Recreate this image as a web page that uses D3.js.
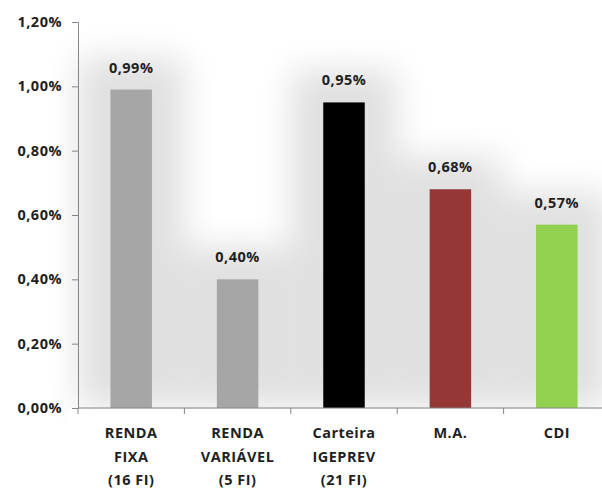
<!DOCTYPE html>
<html>
<head>
<meta charset="utf-8">
<script src="https://cdn.jsdelivr.net/npm/d3@7"></script>
<style>
  body { margin: 0; background: #fff; }
  text { font-family: "Open Sans", Lato, sans-serif; font-weight: bold; fill: #1f1f1f; letter-spacing: 0.5px; }
</style>
</head>
<body>
<div id="chart"></div>
<script>
// categories (each label split in lines)
var categories = [
    ["RENDA", "FIXA", "(16 FI)"],
    ["RENDA", "VARIÁVEL", "(5 FI)"],
    ["Carteira", "IGEPREV", "(21 FI)"],
    ["M.A."],
    ["CDI"]
];
var values = [0.99, 0.40, 0.95, 0.68, 0.57];
var barColors = ["#a6a6a6", "#a6a6a6", "#000000", "#953735", "#92d050"];
var yTicks = [0, 0.2, 0.4, 0.6, 0.8, 1.0, 1.2];

var W = 602, H = 488;
var margin = {top: 22, right: -8, bottom: 80, left: 78};
var width = W - margin.left - margin.right,
    height = H - margin.top - margin.bottom;

var fmt = function(v) { return v.toFixed(2).replace(".", ",") + "%"; };

var svg = d3.select("#chart").append("svg")
    .attr("width", W).attr("height", H)
    .append("g")
    .attr("transform", "translate(" + margin.left + "," + margin.top + ")");

// soft halo behind the bars
var defs = svg.append("defs");
defs.append("filter").attr("id", "glow")
    .attr("x", "-200%").attr("y", "-50%").attr("width", "500%").attr("height", "200%")
    .append("feGaussianBlur").attr("stdDeviation", 17);

var x = d3.scaleBand()
    .domain(d3.range(categories.length))
    .range([0, width])
    .paddingInner(0.61).paddingOuter(0.305);

var y = d3.scaleLinear().domain([0, 1.2]).range([height, 0]);

var idx = d3.range(values.length);

svg.append("g").selectAll("rect.halo")
    .data(idx).enter().append("rect")
    .attr("class", "halo")
    .attr("x", function(i) { return x(i) - 32; })
    .attr("y", function(i) { return y(values[i]) - 32; })
    .attr("width", x.bandwidth() + 64)
    .attr("height", function(i) { return height - y(values[i]) + 32; })
    .attr("fill", "#000")
    .attr("opacity", 0.12)
    .attr("filter", "url(#glow)");

// white out below the axis
svg.append("rect")
    .attr("x", -10).attr("y", height + 1)
    .attr("width", width + 20).attr("height", 100)
    .attr("fill", "#fff");

svg.selectAll("rect.bar")
    .data(idx).enter().append("rect")
    .attr("class", "bar")
    .attr("x", function(i) { return x(i); })
    .attr("y", function(i) { return y(values[i]); })
    .attr("width", x.bandwidth())
    .attr("height", function(i) { return height - y(values[i]); })
    .attr("fill", function(i) { return barColors[i]; });

svg.selectAll("text.val")
    .data(idx).enter().append("text")
    .attr("class", "val")
    .attr("x", function(i) { return x(i) + x.bandwidth() / 2; })
    .attr("y", function(i) { return y(values[i]) - 17; })
    .attr("text-anchor", "middle")
    .style("font-size", "14.5px")
    .text(function(i) { return fmt(values[i]); });

// y axis
var yAxis = svg.append("g")
    .call(d3.axisLeft(y).tickValues(yTicks).tickSize(6).tickPadding(10)
          .tickFormat(fmt));
yAxis.selectAll("line, path").attr("stroke", "#868686");
yAxis.selectAll("text").style("font-size", "14.5px").style("font-family", null);

// x axis
var xPos = d3.scaleLinear().domain([0, categories.length]).range([0, width]);
var xAxis = svg.append("g")
    .attr("transform", "translate(0," + height + ")");
xAxis.append("line")
    .attr("x1", 0).attr("x2", width)
    .attr("stroke", "#868686");
xAxis.selectAll("line.tk")
    .data(d3.range(categories.length + 1)).enter().append("line")
    .attr("class", "tk")
    .attr("x1", function(d) { return xPos(d); }).attr("x2", function(d) { return xPos(d); })
    .attr("y1", 0).attr("y2", 6)
    .attr("stroke", "#868686");

var lbl = xAxis.selectAll("text.cat")
    .data(idx).enter().append("text")
    .attr("class", "cat")
    .attr("text-anchor", "middle")
    .style("font-size", "14.5px");
lbl.selectAll("tspan")
    .data(function(i) { return categories[i].map(function(s) { return {s: s, i: i}; }); })
    .enter().append("tspan")
    .attr("x", function(d) { return x(d.i) + x.bandwidth() / 2; })
    .attr("y", function(d, k) { return 30 + k * 23.5; })
    .text(function(d) { return d.s; });
</script>
</body>
</html>
